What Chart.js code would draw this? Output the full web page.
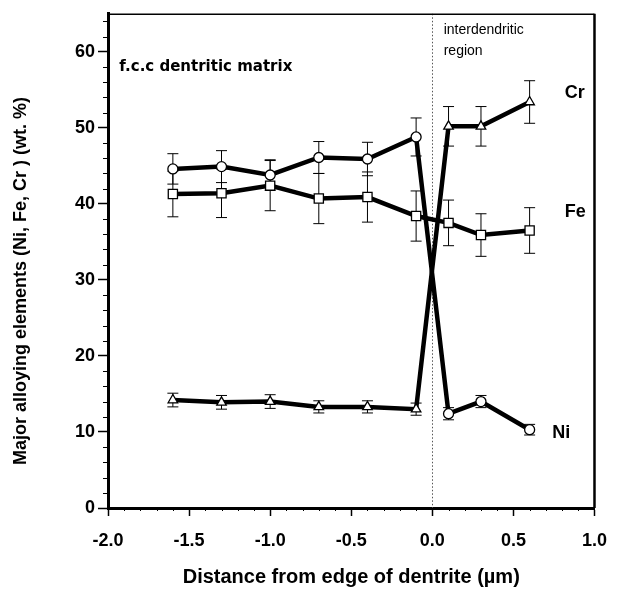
<!DOCTYPE html>
<html>
<head>
<meta charset="utf-8">
<script src="https://cdn.jsdelivr.net/npm/chart.js@4.4.1/dist/chart.umd.min.js"></script>
<style>
    html, body { margin: 0; padding: 0; background: #fff; }
    #wrap { width: 621px; height: 589px; }
</style>
</head>
<body>
<div id="wrap"><canvas id="chart" width="621" height="589"></canvas></div>
<script>
// Vị trí đo (µm) tính từ mép dendrite
const distances = [-1.6, -1.3, -1.0, -0.7, -0.4, -0.1, 0.1, 0.3, 0.6];

// Chuỗi có marker tròn (nhãn Ni)
const niValues = [44.6, 44.9, 43.8, 46.1, 45.9, 48.8, 12.4, 14.0, 10.3];
const niErrors = [2.0, 2.1, 2.0, 2.1, 2.2, 2.5, 0.8, 0.8, 0.7];

// Chuỗi có marker vuông (nhãn Fe)
const feValues = [41.3, 41.4, 42.4, 40.7, 40.9, 38.4, 37.5, 35.9, 36.5];
const feErrors = [3.0, 3.2, 3.3, 3.3, 3.3, 3.3, 3.0, 2.8, 3.0];

// Chuỗi có marker tam giác (nhãn Cr)
const crValues = [14.2, 13.9, 14.0, 13.3, 13.3, 13.0, 50.2, 50.2, 53.4];
const crErrors = [0.9, 0.9, 0.9, 0.8, 0.8, 0.8, 2.6, 2.6, 2.8];

const xTicks = [-2.0, -1.5, -1.0, -0.5, 0.0, 0.5, 1.0];
const yTicks = [0, 10, 20, 30, 40, 50, 60];

const FONT = "'Liberation Sans', Arial, sans-serif";
const WIDE = "'DejaVu Sans', sans-serif";

function toPoints(values) {
    return distances.map(function (x, i) { return { x: x, y: values[i] }; });
}

function makeSeries(label, values, errors, style, radius) {
    return {
        label: label,
        data: toPoints(values),
        errors: errors,
        borderColor: '#000',
        borderWidth: 4.5,
        pointStyle: style,
        pointRadius: radius,
        pointBackgroundColor: '#fff',
        pointBorderColor: '#000',
        pointBorderWidth: 1.3,
        tension: 0
    };
}

// Vẽ thanh sai số, vạch chia phụ, khung và chữ chú thích
const decorPlugin = {
    id: 'decor',
    beforeDatasetsDraw: function (chart) {
        const ctx = chart.ctx;
        const xs = chart.scales.x, ys = chart.scales.y;
        const area = chart.chartArea;

        // đường chấm dọc tại x = 0
        ctx.save();
        ctx.strokeStyle = '#555';
        ctx.lineWidth = 1;
        ctx.setLineDash([1.5, 2]);
        const x0 = Math.round(xs.getPixelForValue(0)) + 0.5;
        ctx.beginPath();
        ctx.moveTo(x0, area.top);
        ctx.lineTo(x0, area.bottom);
        ctx.stroke();
        ctx.restore();

        // thanh sai số
        ctx.save();
        ctx.strokeStyle = '#000';
        ctx.lineWidth = 1;
        chart.data.datasets.forEach(function (ds) {
            ds.data.forEach(function (p, i) {
                const e = ds.errors[i];
                const px = xs.getPixelForValue(p.x);
                const top = ys.getPixelForValue(p.y + e);
                const bot = ys.getPixelForValue(p.y - e);
                ctx.beginPath();
                ctx.moveTo(px, top); ctx.lineTo(px, bot);
                ctx.moveTo(px - 5.5, top); ctx.lineTo(px + 5.5, top);
                ctx.moveTo(px - 5.5, bot); ctx.lineTo(px + 5.5, bot);
                ctx.stroke();
            });
        });
        ctx.restore();
    },
    afterDraw: function (chart) {
        const ctx = chart.ctx;
        const xs = chart.scales.x, ys = chart.scales.y;
        const area = chart.chartArea;

        ctx.save();
        ctx.strokeStyle = '#000';
        // vạch chia phụ trục y (mỗi 2 đơn vị)
        ctx.lineWidth = 1;
        for (let v = 2; v < 65; v += 2) {
            if (v % 10 === 0) continue;
            const py = Math.round(ys.getPixelForValue(v)) + 0.5;
            ctx.beginPath();
            ctx.moveTo(area.left - 5, py);
            ctx.lineTo(area.left, py);
            ctx.stroke();
        }
        // vạch chia phụ trục x (mỗi 0.1)
        for (let k = -19; k < 10; k++) {
            if (k % 5 === 0) continue;
            const px = Math.round(xs.getPixelForValue(k / 10)) + 0.5;
            ctx.beginPath();
            ctx.moveTo(px, area.bottom);
            ctx.lineTo(px, area.bottom + 3);
            ctx.stroke();
        }

        // khung đồ thị
        ctx.lineWidth = 1.5;
        ctx.beginPath();
        ctx.moveTo(area.left, area.top + 0.5);
        ctx.lineTo(area.right, area.top + 0.5);
        ctx.stroke();
        ctx.lineWidth = 2.5;
        ctx.beginPath();
        ctx.moveTo(area.right, area.top);
        ctx.lineTo(area.right, area.bottom);
        ctx.stroke();
        ctx.restore();

        // tiêu đề trục
        ctx.save();
        ctx.fillStyle = '#000';
        ctx.textAlign = 'center';
        ctx.textBaseline = 'middle';
        ctx.font = 'bold 20px ' + FONT;
        ctx.fillText('Distance from edge of dentrite (\u00b5m)', (area.left + area.right) / 2, 577);
        ctx.translate(21, 281);
        ctx.rotate(-Math.PI / 2);
        ctx.font = 'bold 18px ' + FONT;
        ctx.fillText('Major alloying elements (Ni, Fe, Cr ) (wt. %)', 0, 0);
        ctx.restore();

        // chữ chú thích
        ctx.save();
        ctx.fillStyle = '#000';
        ctx.textBaseline = 'alphabetic';
        ctx.textAlign = 'left';
        ctx.font = 'bold 15px ' + WIDE;
        ctx.fillText('f.c.c dentritic matrix', xs.getPixelForValue(-1.93), ys.getPixelForValue(57.5));
        ctx.font = '14px ' + FONT;
        ctx.fillText('interdendritic', xs.getPixelForValue(0.07), ys.getPixelForValue(62.35));
        ctx.fillText('region', xs.getPixelForValue(0.07), ys.getPixelForValue(59.6));
        ctx.font = 'bold 18px ' + FONT;
        ctx.fillText('Cr', xs.getPixelForValue(0.816), ys.getPixelForValue(53.9));
        ctx.fillText('Fe', xs.getPixelForValue(0.816), ys.getPixelForValue(38.3));
        ctx.fillText('Ni', xs.getPixelForValue(0.74), ys.getPixelForValue(9.2));
        ctx.restore();
    }
};

const ctx = document.getElementById('chart').getContext('2d');
new Chart(ctx, {
    type: 'line',
    data: {
        datasets: [
            makeSeries('Ni', niValues, niErrors, 'circle', 5),
            makeSeries('Fe', feValues, feErrors, 'rect', 6.5),
            makeSeries('Cr', crValues, crErrors, 'triangle', 5.5)
        ]
    },
    options: {
        responsive: false,
        animation: false,
        layout: { padding: { top: 12, right: 26, left: 0, bottom: 0 } },
        plugins: {
            legend: { display: false },
            tooltip: { enabled: false }
        },
        scales: {
            x: {
                type: 'linear',
                min: -2.0,
                max: 1.0,
                afterFit: function (scale) { scale.height = 81; },
                afterBuildTicks: function (scale) {
                    scale.ticks = xTicks.map(function (v) { return { value: v }; });
                },
                ticks: {
                    color: '#000',
                    padding: 14,
                    maxRotation: 0,
                    font: { family: FONT, size: 18, weight: 'bold' },
                    callback: function (v) { return Number(v).toFixed(1); }
                },
                grid: {
                    drawOnChartArea: false,
                    drawTicks: true,
                    tickLength: 8,
                    tickWidth: 1.5,
                    tickColor: '#000'
                },
                border: { display: true, color: '#000', width: 3 }
            },
            y: {
                type: 'linear',
                min: 0,
                max: 65,
                afterFit: function (scale) { scale.width = 108; },
                afterBuildTicks: function (scale) {
                    scale.ticks = yTicks.map(function (v) { return { value: v }; });
                },
                ticks: {
                    color: '#000',
                    padding: 3,
                    font: { family: FONT, size: 18, weight: 'bold' }
                },
                grid: {
                    drawOnChartArea: false,
                    drawTicks: true,
                    tickLength: 10,
                    tickWidth: 1.5,
                    tickColor: '#000'
                },
                border: { display: true, color: '#000', width: 3 }
            }
        }
    },
    plugins: [decorPlugin]
});
</script>
</body>
</html>
